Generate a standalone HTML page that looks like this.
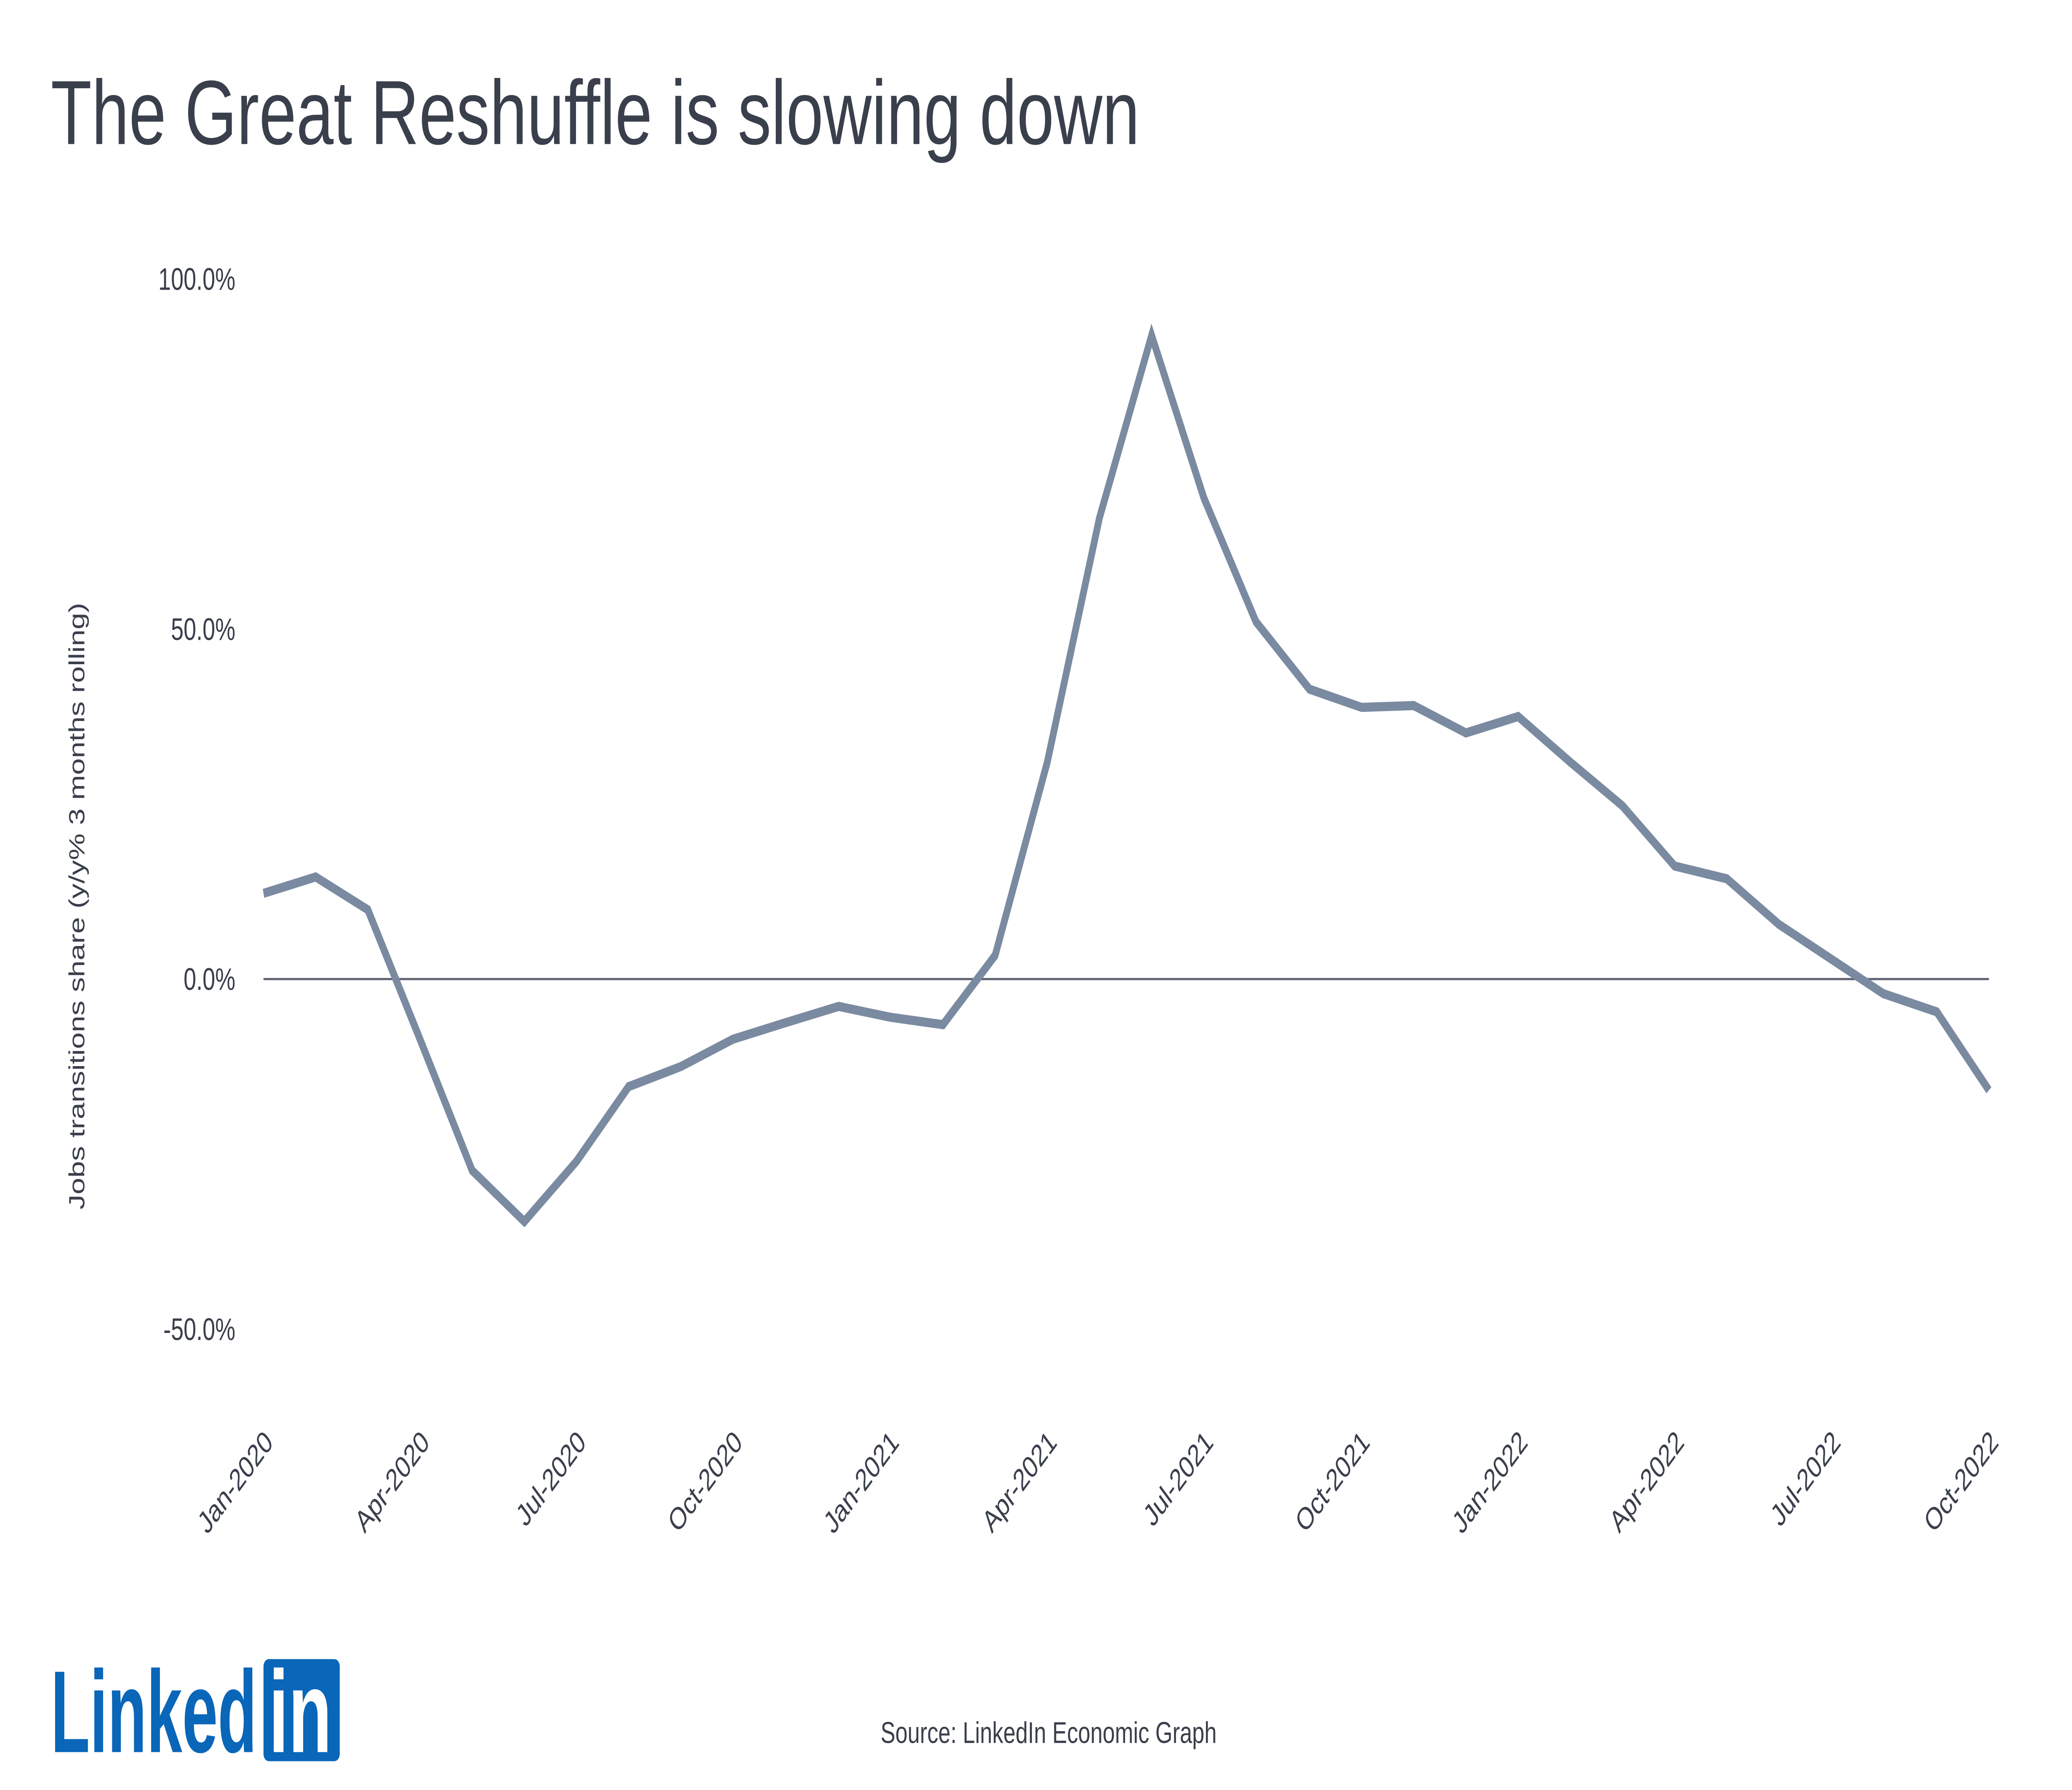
<!DOCTYPE html>
<html><head><meta charset="utf-8"><style>
html,body{margin:0;padding:0;background:#fff;width:100%;height:100%;overflow:hidden;}
svg{display:block;position:fixed;left:0;top:0;width:100vw;height:100vh;}
</style></head><body>
<svg viewBox="0 0 1549.1 981.8" preserveAspectRatio="none" xmlns="http://www.w3.org/2000/svg">
<rect width="1549.1" height="981.8" fill="#fff"/>
<text x="38" y="79" font-family="Liberation Sans, sans-serif" font-size="50" fill="#3a3f4c" textLength="814" lengthAdjust="spacingAndGlyphs">The Great Reshuffle is slowing down</text>
<g font-family="Liberation Sans, sans-serif" font-size="17" fill="#3a3f4c" text-anchor="end">
<text x="176" y="159">100.0%</text>
<text x="176" y="351">50.0%</text>
<text x="176" y="543">0.0%</text>
<text x="176" y="735">-50.0%</text>
</g>
<text transform="translate(63,497) rotate(-90)" font-family="Liberation Sans, sans-serif" font-size="16.5" fill="#3a3f4c" text-anchor="middle">Jobs transitions share (y/y% 3 months rolling)</text>
<line x1="197" y1="537" x2="1487" y2="537" stroke="#5c6270" stroke-width="1.2"/>
<polyline fill="none" stroke="#7a8aa1" stroke-width="5" stroke-linejoin="miter" stroke-linecap="butt" points="197,490 236,481 275,499 314,570 353,642 392,670 431,637 470,596 509,585 548,570 587,561 627,552 666,558 705,562 744,524 783,418 822,284 861,184 900,273 939,341 979,378 1018,388 1057,387 1096,402 1135,393 1174,418 1213,442 1252,475 1291,482 1330,507 1369,526 1408,545 1448,555 1487,598"/>
<g font-family="Liberation Sans, sans-serif" font-size="17" fill="#3a3f4c" text-anchor="end">
<text transform="translate(205,792) rotate(-45)">Jan-2020</text>
<text transform="translate(322,792) rotate(-45)">Apr-2020</text>
<text transform="translate(439,792) rotate(-45)">Jul-2020</text>
<text transform="translate(556,792) rotate(-45)">Oct-2020</text>
<text transform="translate(673,792) rotate(-45)">Jan-2021</text>
<text transform="translate(791,792) rotate(-45)">Apr-2021</text>
<text transform="translate(908,792) rotate(-45)">Jul-2021</text>
<text transform="translate(1025,792) rotate(-45)">Oct-2021</text>
<text transform="translate(1143,792) rotate(-45)">Jan-2022</text>
<text transform="translate(1260,792) rotate(-45)">Apr-2022</text>
<text transform="translate(1377,792) rotate(-45)">Jul-2022</text>
<text transform="translate(1495,792) rotate(-45)">Oct-2022</text>
</g>
<text x="784" y="956" font-family="Liberation Sans, sans-serif" font-size="16.5" fill="#3a3f4c" text-anchor="middle">Source: LinkedIn Economic Graph</text>
<text x="38" y="961" font-family="Liberation Sans, sans-serif" font-weight="bold" font-size="64" fill="#0a66b8" textLength="154" lengthAdjust="spacingAndGlyphs">Linked</text>
<rect x="197" y="910" width="57" height="56" rx="4" fill="#0a66b8"/>
<text x="201" y="961" font-family="Liberation Sans, sans-serif" font-weight="bold" font-size="64" fill="#fff" textLength="47" lengthAdjust="spacingAndGlyphs">in</text>
</svg>
</body></html>
